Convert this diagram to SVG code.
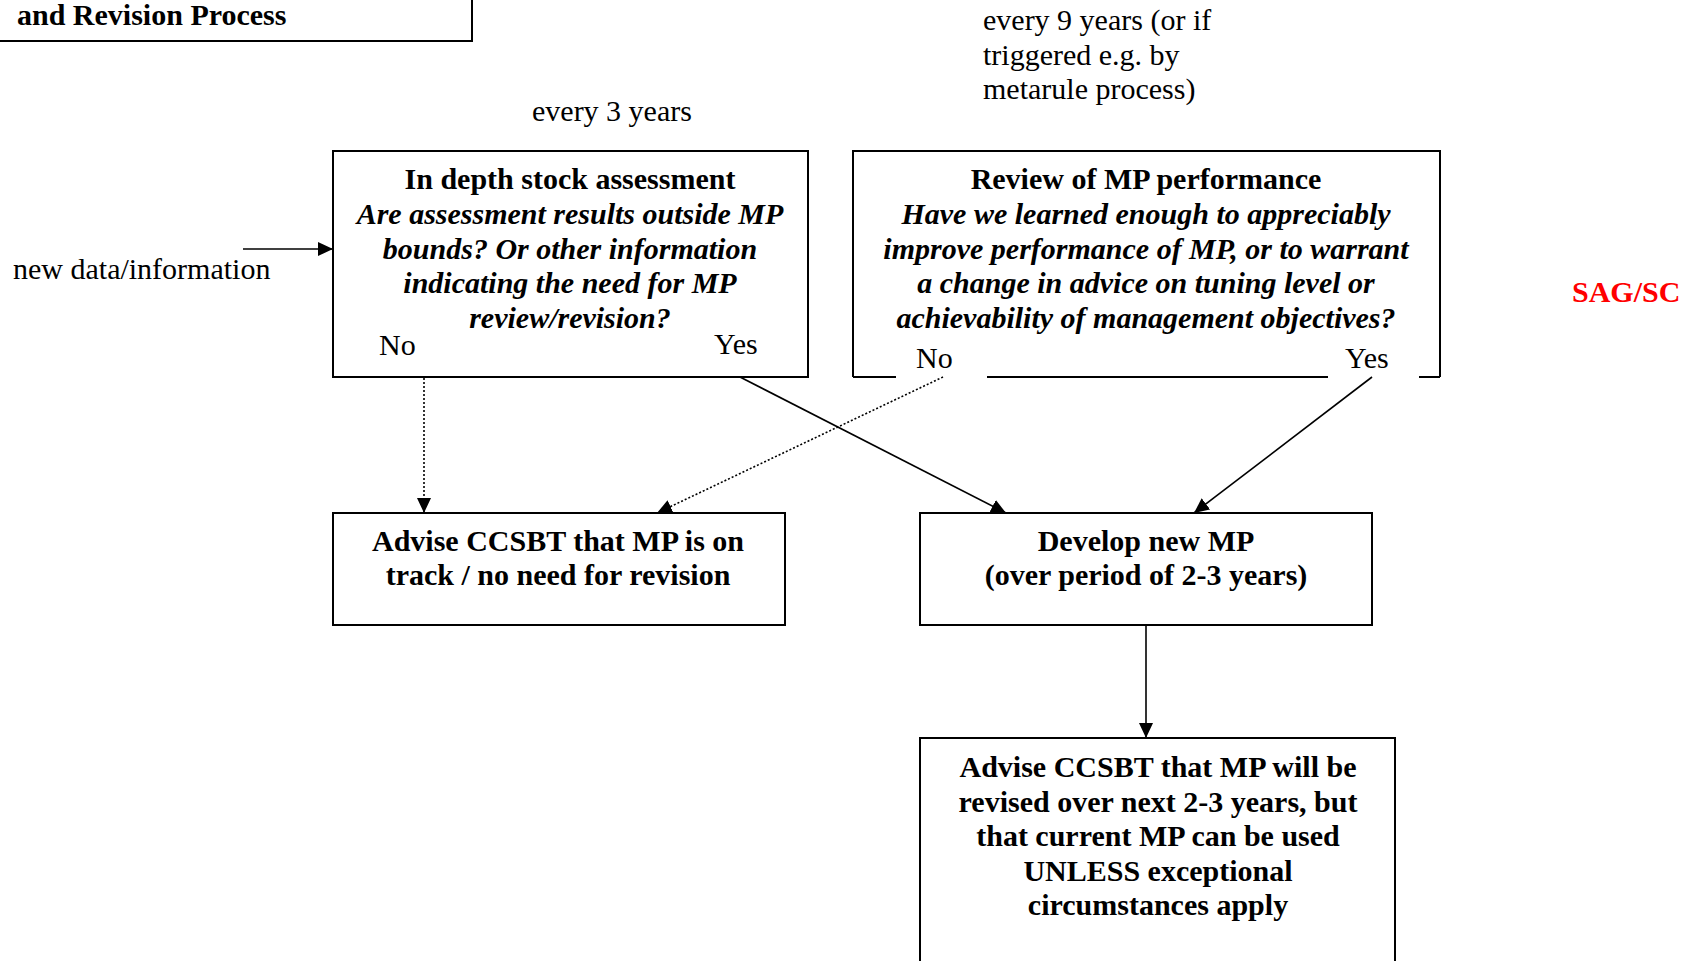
<svg xmlns="http://www.w3.org/2000/svg" width="1690" height="961" viewBox="0 0 1690 961">
<style>
text{font-family:"Liberation Serif","Times New Roman",serif;font-size:30px;fill:#000}
.b{font-weight:bold}
.bi{font-weight:bold;font-style:italic}
.c{text-anchor:middle}
.box{fill:#fff;stroke:#000;stroke-width:2}
.ln{fill:none;stroke:#000;stroke-width:1.6}
.dot{fill:none;stroke:#000;stroke-width:1.6;stroke-dasharray:2,2}
</style>
<defs>
<marker id="ah" markerUnits="userSpaceOnUse" markerWidth="16" markerHeight="14" refX="15" refY="7" orient="auto">
<path d="M0,0 L15,7 L0,14 z" fill="#000"/>
</marker>
</defs>
<rect width="1690" height="961" fill="#fff"/>

<g id="title">
<rect class="box" x="-5" y="-10" width="477" height="51"/>
<text class="b" x="17" y="25">and Revision Process</text>
</g>

<g id="labels">
<text x="532" y="121">every 3 years</text>
<text x="983" y="30">every 9 years (or if</text>
<text x="983" y="65">triggered e.g. by</text>
<text x="983" y="99">metarule process)</text>
<text x="13" y="279">new data/information</text>
<text class="b" x="1572" y="302" style="fill:#ff0000">SAG/SC</text>
</g>

<g id="stock-assessment">
<rect class="box" x="333" y="151" width="475" height="226"/>
<text class="b c" x="570" y="189">In depth stock assessment</text>
<text class="bi c" x="570" y="224">Are assessment results outside MP</text>
<text class="bi c" x="570" y="259">bounds? Or other information</text>
<text class="bi c" x="570" y="293">indicating the need for MP</text>
<text class="bi c" x="570" y="328">review/revision?</text>
<text x="379" y="355">No</text>
<text x="714" y="354">Yes</text>
</g>

<g id="mp-review">
<path d="M853,377 V151 H1440 V377" class="box" style="fill:#fff"/>
<path d="M853,377 H896 M987,377 H1328 M1419,377 H1440" fill="none" stroke="#000" stroke-width="2"/>
<text class="b c" x="1146" y="189">Review of MP performance</text>
<text class="bi c" x="1146" y="224">Have we learned enough to appreciably</text>
<text class="bi c" x="1146" y="259">improve performance of MP, or to warrant</text>
<text class="bi c" x="1146" y="293">a change in advice on tuning level or</text>
<text class="bi c" x="1146" y="328">achievability of management objectives?</text>
<text x="916" y="368">No</text>
<text x="1345" y="368">Yes</text>
</g>

<g id="on-track">
<rect class="box" x="333" y="513" width="452" height="112"/>
<text class="b c" x="558" y="551">Advise CCSBT that MP is on</text>
<text class="b c" x="558" y="585">track / no need for revision</text>
</g>

<g id="develop">
<rect class="box" x="920" y="513" width="452" height="112"/>
<text class="b c" x="1146" y="551">Develop new MP</text>
<text class="b c" x="1146" y="585">(over period of 2-3 years)</text>
</g>

<g id="advise-revise">
<rect class="box" x="920" y="738" width="475" height="240"/>
<text class="b c" x="1158" y="777">Advise CCSBT that MP will be</text>
<text class="b c" x="1158" y="812">revised over next 2-3 years, but</text>
<text class="b c" x="1158" y="846">that current MP can be used</text>
<text class="b c" x="1158" y="881">UNLESS exceptional</text>
<text class="b c" x="1158" y="915">circumstances apply</text>
</g>

<g id="connectors">
<line class="ln" x1="243" y1="249" x2="333" y2="249" marker-end="url(#ah)"/>
<line class="dot" x1="424" y1="378" x2="424" y2="513" marker-end="url(#ah)"/>
<line class="ln" x1="740" y1="377" x2="1006" y2="513" marker-end="url(#ah)"/>
<line class="dot" x1="943" y1="377" x2="657" y2="513" marker-end="url(#ah)"/>
<line class="ln" x1="1372" y1="377" x2="1194" y2="513" marker-end="url(#ah)"/>
<line class="ln" x1="1146" y1="625" x2="1146" y2="738" marker-end="url(#ah)"/>
</g>
</svg>
